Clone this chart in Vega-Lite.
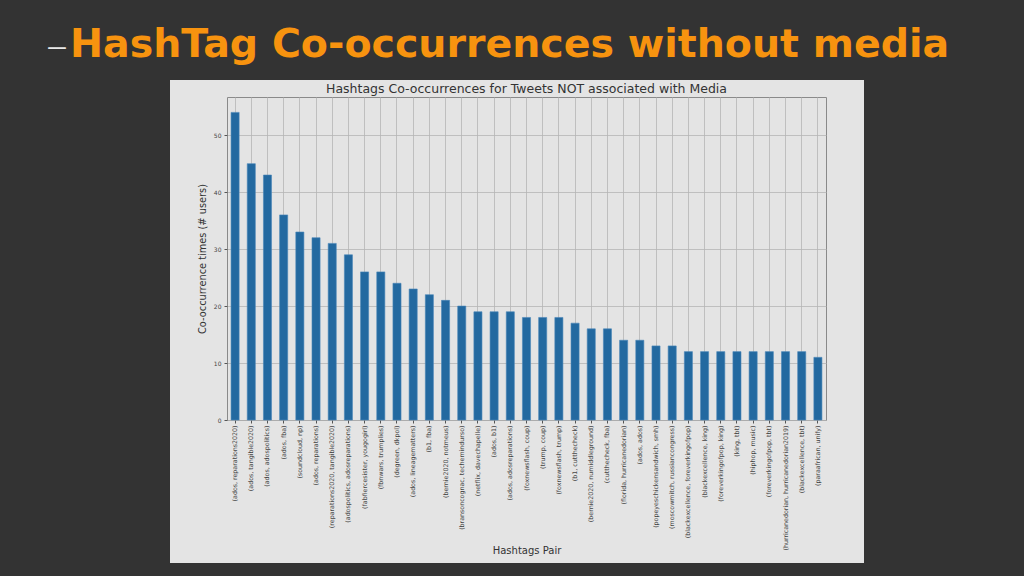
{
  "$schema": "https://vega.github.io/schema/vega-lite/v6.json",
  "width": 599,
  "height": 323,
  "autosize": {"type": "none"},
  "padding": {"left": 227, "top": 97, "right": 198, "bottom": 156},
  "background": "#e4e4e4",
  "config": {
    "view": {"fill": "#e4e4e4", "stroke": "#8a8a8a", "strokeWidth": 1},
    "axis": {
      "labelFont": "DejaVu Sans",
      "titleFont": "DejaVu Sans",
      "labelColor": "#444444",
      "titleColor": "#333333",
      "titleFontWeight": "normal",
      "gridColor": "#b5b5b5",
      "gridWidth": 0.8,
      "domain": false,
      "tickColor": "#555555",
      "tickSize": 3
    }
  },
  "data": {
    "values": [
      {"pair": "(ados, reparations2020)", "count": 54},
      {"pair": "(ados, tangible2020)", "count": 45},
      {"pair": "(ados, adospolitics)", "count": 43},
      {"pair": "(ados, fba)", "count": 36},
      {"pair": "(soundcloud, np)", "count": 33},
      {"pair": "(ados, reparations)", "count": 32},
      {"pair": "(reparations2020, tangible2020)", "count": 31},
      {"pair": "(adospolitics, adosreparations)", "count": 29},
      {"pair": "(fabfiercesister, yougogirl)", "count": 26},
      {"pair": "(fbnwars, trumplies)", "count": 26},
      {"pair": "(degreen, dkpol)", "count": 24},
      {"pair": "(ados, lineagematters)", "count": 23},
      {"pair": "(b1, fba)", "count": 22},
      {"pair": "(bernie2020, notmeus)", "count": 21},
      {"pair": "(bransoncognac, techemindurso)", "count": 20},
      {"pair": "(netflix, davechapelle)", "count": 19},
      {"pair": "(ados, b1)", "count": 19},
      {"pair": "(ados, adosreparations)", "count": 19},
      {"pair": "(foxnewsflash, coup)", "count": 18},
      {"pair": "(trump, coup)", "count": 18},
      {"pair": "(foxnewsflash, trump)", "count": 18},
      {"pair": "(b1, cutthecheck)", "count": 17},
      {"pair": "(bernie2020, numiddleground)", "count": 16},
      {"pair": "(cutthecheck, fba)", "count": 16},
      {"pair": "(florida, hurricanedorian)", "count": 14},
      {"pair": "(ados, ados)", "count": 14},
      {"pair": "(popeyeschickensandwich, smh)", "count": 13},
      {"pair": "(moscowmitch, russiancongress)", "count": 13},
      {"pair": "(blackexcellence, foreverkingofpop)", "count": 12},
      {"pair": "(blackexcellence, king)", "count": 12},
      {"pair": "(foreverkingofpop, king)", "count": 12},
      {"pair": "(king, tbt)", "count": 12},
      {"pair": "(hiphop, music)", "count": 12},
      {"pair": "(foreverkingofpop, tbt)", "count": 12},
      {"pair": "(hurricanedorian, hurricanedorian2019)", "count": 12},
      {"pair": "(blackexcellence, tbt)", "count": 12},
      {"pair": "(paraafrican, unify)", "count": 11}
    ]
  },
  "layer": [
    {
      "mark": {"type": "bar", "color": "#2369a0", "stroke": "#4a87b8", "strokeWidth": 0.6},
      "encoding": {
        "x": {
          "field": "pair",
          "type": "nominal",
          "sort": null,
          "scale": {"paddingInner": 0.5, "paddingOuter": 0.25},
          "axis": {
            "title": "Hashtags Pair",
            "titleFontSize": 10,
            "titlePadding": -4,
            "labelAngle": 270,
            "labelFontSize": 6.3,
            "labelPadding": 2,
            "grid": true,
            "labelLimit": 200
          }
        },
        "y": {
          "field": "count",
          "type": "quantitative",
          "scale": {"domain": [0, 56.7], "nice": false},
          "axis": {
            "title": "Co-occurrence times (# users)",
            "titleFontSize": 9.8,
            "titlePadding": 6,
            "values": [0, 10, 20, 30, 40, 50],
            "labelFontSize": 6,
            "labelPadding": 3,
            "grid": true
          }
        }
      }
    },
    {
      "data": {"values": [{}]},
      "mark": {"type": "rect", "filled": false, "stroke": "#333333", "strokeWidth": 400},
      "encoding": {
        "x": {"value": -257},
        "x2": {"value": 837},
        "y": {"value": -217},
        "y2": {"value": 666}
      }
    },
    {
      "data": {"values": [{"t": "Hashtags Co-occurrences for Tweets NOT associated with Media"}]},
      "mark": {"type": "text", "font": "DejaVu Sans", "fontSize": 12.5, "color": "#333333", "align": "center", "baseline": "middle"},
      "encoding": {"text": {"field": "t"}, "x": {"value": 299.5}, "y": {"value": -8}}
    },
    {
      "data": {"values": [{"t": "–"}]},
      "mark": {"type": "text", "font": "DejaVu Sans", "fontSize": 44, "fontWeight": 200, "color": "#e8e8e8", "align": "left", "baseline": "alphabetic"},
      "encoding": {"text": {"field": "t"}, "x": {"value": -181}, "y": {"value": -37}}
    },
    {
      "data": {"values": [{"t": "HashTag Co-occurrences without media"}]},
      "mark": {"type": "text", "font": "DejaVu Sans", "fontSize": 39.5, "fontWeight": "bold", "color": "#f7930f", "align": "left", "baseline": "alphabetic"},
      "encoding": {"text": {"field": "t"}, "x": {"value": -157}, "y": {"value": -40}}
    }
  ]
}
